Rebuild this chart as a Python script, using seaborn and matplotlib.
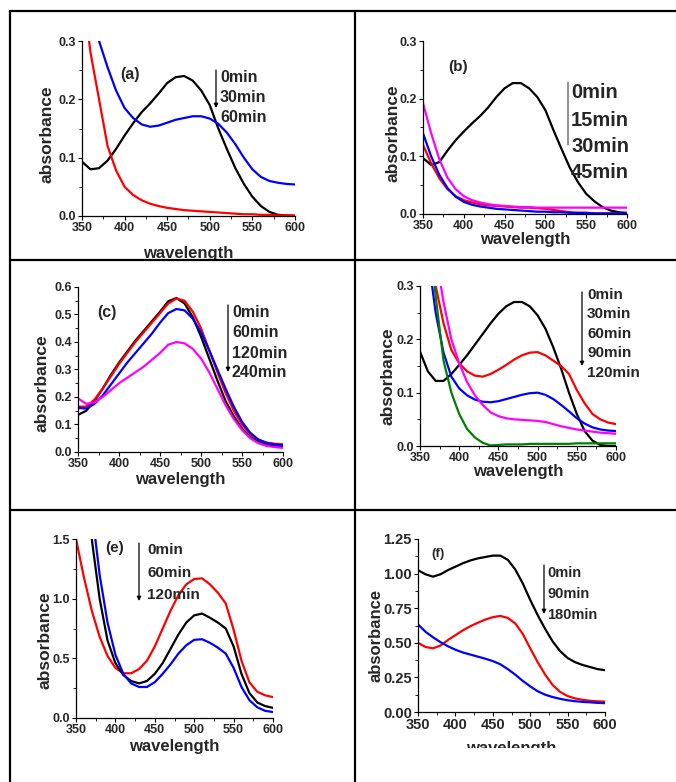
import matplotlib
matplotlib.use('Agg')
from matplotlib import pyplot as plt
from matplotlib.lines import Line2D
from matplotlib.ticker import MultipleLocator
from matplotlib.transforms import Bbox
import pandas as pd
import seaborn as sns

W, H = 676, 782

# wavelength grid (nm), read every 10 nm from the picture
wavelength = list(range(350, 601, 10))

# panel (a)
a_black = [0.093, 0.080, 0.082, 0.095, 0.115, 0.138, 0.159, 0.178, 0.193, 0.210, 0.228, 0.238, 0.240,
           0.232, 0.215, 0.190, 0.150, 0.115, 0.082, 0.055, 0.033, 0.017, 0.007, 0.002, 0.001, 0.000]
a_red = [0.400, 0.280, 0.200, 0.120, 0.078, 0.050, 0.036, 0.027, 0.021, 0.017, 0.014, 0.012, 0.010,
         0.009, 0.008, 0.007, 0.006, 0.005, 0.004, 0.003, 0.003, 0.002, 0.002, 0.001, 0.001, 0.001]
a_blue = [0.520, 0.380, 0.300, 0.255, 0.215, 0.185, 0.168, 0.157, 0.153, 0.155, 0.160, 0.165, 0.168,
          0.171, 0.171, 0.167, 0.158, 0.143, 0.123, 0.100, 0.080, 0.067, 0.060, 0.057, 0.055, 0.054]

# panel (b)
b_black = [0.097, 0.085, 0.090, 0.110, 0.128, 0.143, 0.157, 0.170, 0.185, 0.203, 0.218, 0.227, 0.227,
           0.218, 0.203, 0.180, 0.145, 0.112, 0.080, 0.055, 0.035, 0.022, 0.012, 0.006, 0.003, 0.002]
b_red = [0.120, 0.088, 0.062, 0.043, 0.031, 0.024, 0.020, 0.017, 0.015, 0.014, 0.013, 0.012, 0.011,
         0.011, 0.010, 0.009, 0.007, 0.005, 0.003, 0.002, 0.002, 0.001, 0.001, 0.001, 0.001, 0.001]
b_blue = [0.140, 0.100, 0.068, 0.045, 0.030, 0.021, 0.016, 0.013, 0.011, 0.009, 0.008, 0.007, 0.006,
          0.005, 0.004, 0.004, 0.003, 0.003, 0.002, 0.002, 0.002, 0.001, 0.001, 0.001, 0.001, 0.001]
b_magenta = [0.192, 0.140, 0.095, 0.063, 0.043, 0.031, 0.024, 0.020, 0.017, 0.015, 0.014, 0.013, 0.012,
             0.012, 0.011, 0.011, 0.011, 0.011, 0.011, 0.011, 0.011, 0.011, 0.011, 0.011, 0.011, 0.011]

# panel (c)
c_black = [0.135, 0.150, 0.185, 0.230, 0.280, 0.325, 0.365, 0.405, 0.440, 0.475, 0.510, 0.548, 0.560,
           0.540, 0.490, 0.420, 0.340, 0.260, 0.185, 0.130, 0.085, 0.055, 0.037, 0.027, 0.022, 0.020]
c_red = [0.165, 0.165, 0.190, 0.230, 0.275, 0.320, 0.360, 0.400, 0.435, 0.470, 0.505, 0.540, 0.558,
         0.550, 0.510, 0.450, 0.370, 0.290, 0.215, 0.150, 0.100, 0.065, 0.045, 0.034, 0.030, 0.028]
c_blue = [0.160, 0.158, 0.175, 0.205, 0.245, 0.285, 0.325, 0.360, 0.395, 0.430, 0.470, 0.505, 0.520,
          0.515, 0.485, 0.435, 0.370, 0.300, 0.230, 0.165, 0.110, 0.070, 0.045, 0.033, 0.027, 0.024]
c_magenta = [0.195, 0.175, 0.180, 0.200, 0.225, 0.250, 0.270, 0.290, 0.310, 0.335, 0.360, 0.390, 0.400,
             0.395, 0.375, 0.340, 0.290, 0.230, 0.170, 0.120, 0.080, 0.050, 0.032, 0.022, 0.018, 0.015]

# panel (d)
d_black = [0.177, 0.140, 0.122, 0.122, 0.135, 0.152, 0.170, 0.190, 0.210, 0.230, 0.248, 0.262, 0.270,
           0.270, 0.262, 0.245, 0.220, 0.185, 0.145, 0.100, 0.060, 0.028, 0.010, 0.002, 0.000, 0.000]
d_red = [0.550, 0.400, 0.300, 0.230, 0.180, 0.155, 0.140, 0.132, 0.130, 0.135, 0.143, 0.152, 0.162,
         0.170, 0.175, 0.176, 0.170, 0.160, 0.150, 0.135, 0.105, 0.080, 0.060, 0.050, 0.044, 0.041]
d_blue = [0.500, 0.360, 0.250, 0.175, 0.130, 0.108, 0.095, 0.087, 0.083, 0.082, 0.084, 0.088, 0.092,
          0.096, 0.099, 0.100, 0.096, 0.088, 0.077, 0.065, 0.052, 0.042, 0.035, 0.031, 0.029, 0.028]
d_magenta = [0.700, 0.500, 0.360, 0.270, 0.200, 0.155, 0.120, 0.095, 0.077, 0.063, 0.056, 0.052, 0.050,
             0.049, 0.048, 0.047, 0.045, 0.041, 0.037, 0.034, 0.031, 0.029, 0.027, 0.025, 0.024, 0.023]
d_green = [0.700, 0.450, 0.280, 0.160, 0.100, 0.060, 0.032, 0.016, 0.006, 0.001, 0.002, 0.003, 0.003,
           0.003, 0.004, 0.004, 0.004, 0.004, 0.004, 0.004, 0.005, 0.005, 0.005, 0.005, 0.005, 0.005]

# panel (e)
e_red = [1.50, 1.18, 0.90, 0.68, 0.52, 0.42, 0.375, 0.375, 0.41, 0.48, 0.60, 0.75, 0.90,
         1.03, 1.12, 1.165, 1.17, 1.12, 1.05, 0.96, 0.74, 0.48, 0.30, 0.22, 0.19, 0.175]
e_black = [2.30, 2.00, 1.50, 1.00, 0.65, 0.46, 0.36, 0.31, 0.29, 0.31, 0.37, 0.46, 0.58,
           0.70, 0.80, 0.86, 0.875, 0.84, 0.80, 0.75, 0.60, 0.37, 0.21, 0.13, 0.10, 0.085]
e_blue = [2.60, 2.20, 1.75, 1.20, 0.80, 0.53, 0.37, 0.29, 0.26, 0.26, 0.30, 0.37, 0.45,
          0.54, 0.61, 0.655, 0.66, 0.63, 0.59, 0.54, 0.42, 0.26, 0.15, 0.09, 0.06, 0.05]

# panel (f)
f_black = [1.025, 0.995, 0.978, 0.995, 1.025, 1.050, 1.075, 1.095, 1.110, 1.120, 1.130, 1.130, 1.100,
           1.030, 0.930, 0.810, 0.700, 0.600, 0.510, 0.440, 0.390, 0.360, 0.340, 0.325, 0.310, 0.302]
f_red = [0.500, 0.470, 0.460, 0.480, 0.520, 0.555, 0.590, 0.620, 0.645, 0.668, 0.685, 0.694, 0.680,
         0.640, 0.565, 0.460, 0.360, 0.270, 0.195, 0.145, 0.115, 0.098, 0.088, 0.081, 0.077, 0.075]
f_blue = [0.633, 0.580, 0.540, 0.505, 0.475, 0.450, 0.430, 0.415, 0.400, 0.385, 0.368, 0.345, 0.310,
          0.270, 0.225, 0.185, 0.150, 0.125, 0.108, 0.095, 0.085, 0.078, 0.073, 0.070, 0.066, 0.064]

times_a = ['0min', '30min', '60min']
times_b = ['0min', '15min', '30min', '45min']
times_c = ['0min', '60min', '120min', '240min']
times_d = ['0min', '30min', '60min', '90min', '120min']
times_e = ['0min', '60min', '120min']
times_f = ['0min', '90min', '180min']

sns.set_style('ticks')
plt.rcParams['font.family'] = ['Liberation Sans', 'DejaVu Sans']
plt.rcParams['font.weight'] = 'bold'
plt.rcParams['axes.labelweight'] = 'bold'

fig = plt.figure(figsize=(W / 100, H / 100), dpi=100)


def fig_xy(x, y):
    return x / W, 1 - y / H


def panel(box, curves, colors, ylim, ystep, xlab_y, ylab_xy, tick_size=9, lab_size=12.5):
    left, top, right, bottom = box
    ax = fig.add_axes([left / W, 1 - bottom / H, (right - left) / W, (bottom - top) / H])
    rows = []
    for name, vals in curves:
        for w, v in zip(wavelength, vals):
            rows.append({'wavelength': w, 'absorbance': v, 'series': name})
    df = pd.DataFrame(rows)
    sns.lineplot(data=df, x='wavelength', y='absorbance', hue='series',
                 palette=dict(zip([c[0] for c in curves], colors)),
                 legend=False, ax=ax, lw=1.6)
    ax.set_xlim(350, 600)
    ax.set_ylim(*ylim)
    ax.xaxis.set_major_locator(MultipleLocator(50))
    ax.xaxis.set_minor_locator(MultipleLocator(25))
    ax.yaxis.set_major_locator(MultipleLocator(ystep))
    ax.yaxis.set_minor_locator(MultipleLocator(ystep / 2))
    ax.tick_params(which='major', direction='out', length=3, width=0.8, pad=1.5,
                   labelsize=tick_size, color='black')
    ax.tick_params(which='minor', direction='out', length=2, width=0.6, color='black')
    for lab in ax.get_xticklabels() + ax.get_yticklabels():
        lab.set_fontweight('bold')
    sns.despine(ax=ax)
    for s in ['left', 'bottom']:
        ax.spines[s].set_linewidth(0.9)
        ax.spines[s].set_color('black')
    ax.set_xlabel('wavelength', fontsize=12, fontweight='bold')
    ax.set_ylabel('absorbance', fontsize=lab_size, fontweight='bold')
    ax.xaxis.set_label_coords(0.5, xlab_y)
    ax.yaxis.set_label_coords(*ylab_xy)
    ax.set_facecolor('none')
    return ax


def label(x, y, s, size, va='center'):
    fx, fy = fig_xy(x, y)
    fig.text(fx, fy, s, fontsize=size, fontweight='bold', va=va, ha='left')


def arrow(ax, x, y1, y2, head=True, lw=0.9):
    style = '-|>' if head else '-'
    ax.annotate('', xy=(x, H - y2), xytext=(x, H - y1), xycoords='figure pixels',
                textcoords='figure pixels', annotation_clip=False,
                arrowprops=dict(arrowstyle=style, lw=lw, color='black',
                                mutation_scale=6, shrinkA=0, shrinkB=0))


# (a)
ax_a = panel((82, 41, 295, 216), list(zip(times_a, [a_black, a_blue, a_red])),
             ['black', 'blue', 'red'], (0, 0.3), 0.1, -0.171, (-0.13, 0.469))
label(120, 74, '(a)', 11.5)
for t, y in zip(times_a, [77, 97, 118]):
    label(220, y, t, 11.5)
arrow(ax_a, 216, 70, 108)
ax_a.xaxis.label.set_clip_box(Bbox.from_extents(0, H - 260, W, H))
ax_a.xaxis.label.set_clip_on(True)

# (b)
ax_b = panel((423, 41, 627, 214), list(zip(times_b, [b_black, b_red, b_blue, b_magenta])),
             ['black', 'red', 'blue', 'magenta'], (0, 0.3), 0.1, -0.102, (-0.11, 0.468))
label(448, 67, '(b)', 11)
for t, y in zip(times_b, [93, 120, 147, 173]):
    label(571, y, t, 14.5)
arrow(ax_b, 568, 82, 145, head=False, lw=0.6)

# (c)
ax_c = panel((78, 287, 283, 452), list(zip(times_c, [c_black, c_red, c_blue, c_magenta])),
             ['black', 'red', 'blue', 'magenta'], (0, 0.6), 0.1, -0.121, (-0.141, 0.418))
label(97, 312, '(c)', 11.5)
for t, y in zip(times_c, [313, 333, 354, 373]):
    label(232, y, t, 11.5)
arrow(ax_c, 228, 305, 372)

# (d)
ax_d = panel((420, 286, 616, 446), list(zip(times_d, [d_black, d_red, d_blue, d_magenta, d_green])),
             ['black', 'red', 'blue', 'magenta', 'green'], (0, 0.3), 0.1, -0.1125, (-0.127, 0.4375))
for t, y in zip(times_d, [295, 314, 334, 353, 373]):
    label(587, y, t, 11)
arrow(ax_d, 582, 292, 366)

# (e)
ax_e = panel((76, 539, 273, 718), list(zip(times_e, [e_red, e_black, e_blue])),
             ['red', 'black', 'blue'], (0, 1.5), 0.5, -0.117, (-0.117, 0.436))
label(105, 548, '(e)', 11)
for t, y in zip(times_e, [550, 573, 595]):
    label(147, y, t, 11)
arrow(ax_e, 139, 543, 601)

# (f)
ax_f = panel((418, 539, 605, 712), list(zip(times_f, [f_black, f_red, f_blue])),
             ['black', 'red', 'blue'], (0, 1.25), 0.25, -0.168, (-0.187, 0.44), tick_size=10.5,
             lab_size=12)
label(431, 554, '(f)', 9.5)
for t, y in zip(times_f, [573, 594, 615]):
    label(547, y, t, 10.5)
arrow(ax_f, 544, 565, 614)
ax_f.xaxis.label.set_clip_box(Bbox.from_extents(0, H - 748, W, H))
ax_f.xaxis.label.set_clip_on(True)

# table frame around the panels
frame = [((10, 11), (10, H)), ((10, 11), (W, 11)), ((355, 11), (355, H)),
         ((10, 260), (W, 260)), ((10, 510), (W, 510))]
for (x0, y0), (x1, y1) in frame:
    p0, p1 = fig_xy(x0, y0), fig_xy(x1, y1)
    fig.add_artist(Line2D([p0[0], p1[0]], [p0[1], p1[1]], color='black', lw=1.6,
                          transform=fig.transFigure))

fig.savefig('out.png', dpi=100)
